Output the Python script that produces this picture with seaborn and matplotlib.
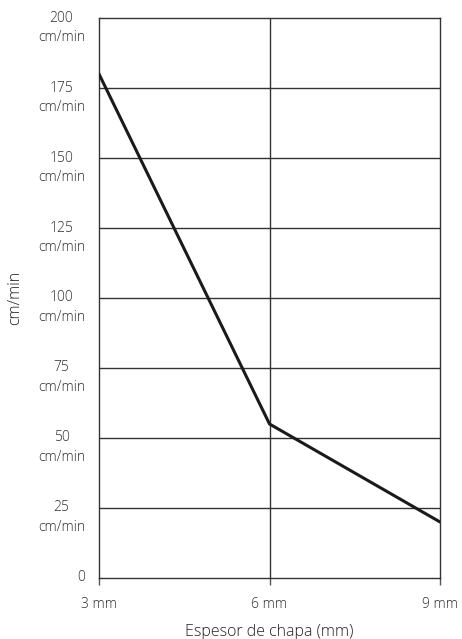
import matplotlib
matplotlib.use("Agg")
import matplotlib.pyplot as plt
import matplotlib.transforms as mtransforms
import seaborn as sns
import pandas as pd

# Data
thickness_mm = [3, 6, 9]
speed_cm_min = [180, 55, 20]
y_ticks = [0, 25, 50, 75, 100, 125, 150, 175, 200]
y_tick_labels = ["0"] + [f"{v}\ncm/min" for v in y_ticks[1:]]
x_tick_labels = ["3 mm", "6 mm", "9 mm"]

sns.set_theme(style="white")
plt.rcParams["font.family"] = ["Open Sans", "DejaVu Sans"]

df = pd.DataFrame({"thickness": thickness_mm, "speed": speed_cm_min})

fig = plt.figure(figsize=(4.62, 6.39), dpi=100)
ax = fig.add_axes([0.2143, 0.0955, 0.9524 - 0.2143, 0.9718 - 0.0955])

# grid
for v in y_ticks[1:-1]:
    ax.axhline(v, color="#333333", linewidth=1.0, zorder=1)
ax.axvline(thickness_mm[1], color="#333333", linewidth=1.0, zorder=1)

sns.lineplot(data=df, x="thickness", y="speed", color="#1a1a1a", linewidth=2.2, ax=ax, zorder=3)

ax.set_xlim(3, 9)
ax.set_ylim(0, 200)
ax.set_xticks(thickness_mm)
ax.set_xticklabels(x_tick_labels)
ax.set_yticks(y_ticks)
ax.set_yticklabels(y_tick_labels, linespacing=1.4, multialignment="center")
ax.set_yticks([0], minor=True)

for s in ax.spines.values():
    s.set_color("#333333")
    s.set_linewidth(1.0)

ax.tick_params(axis="both", colors="#2e2e2e", labelsize=10, width=1, direction="out")
ax.tick_params(axis="x", bottom=True, length=5, pad=9, color="#555555")
ax.tick_params(axis="y", which="major", left=True, length=0, pad=10)
ax.tick_params(axis="y", which="minor", left=True, length=5, width=1, color="#555555")

# first line (the number) sits on the tick, "cm/min" below it
shift = mtransforms.ScaledTranslation(0, 0.075, fig.dpi_scale_trans)
for lbl in ax.get_yticklabels():
    lbl.set_verticalalignment("top")
    lbl.set_transform(lbl.get_transform() + shift)
for lbl in ax.get_xticklabels() + ax.get_yticklabels():
    lbl.set_fontweight("light")

ax.set_xlabel("Espesor de chapa (mm)", color="#222222", fontsize=11.5, labelpad=8, fontweight="light")
ax.set_ylabel("cm/min", color="#222222", fontsize=11.5, labelpad=11, fontweight="light")

fig.savefig("out.png", dpi=100)
